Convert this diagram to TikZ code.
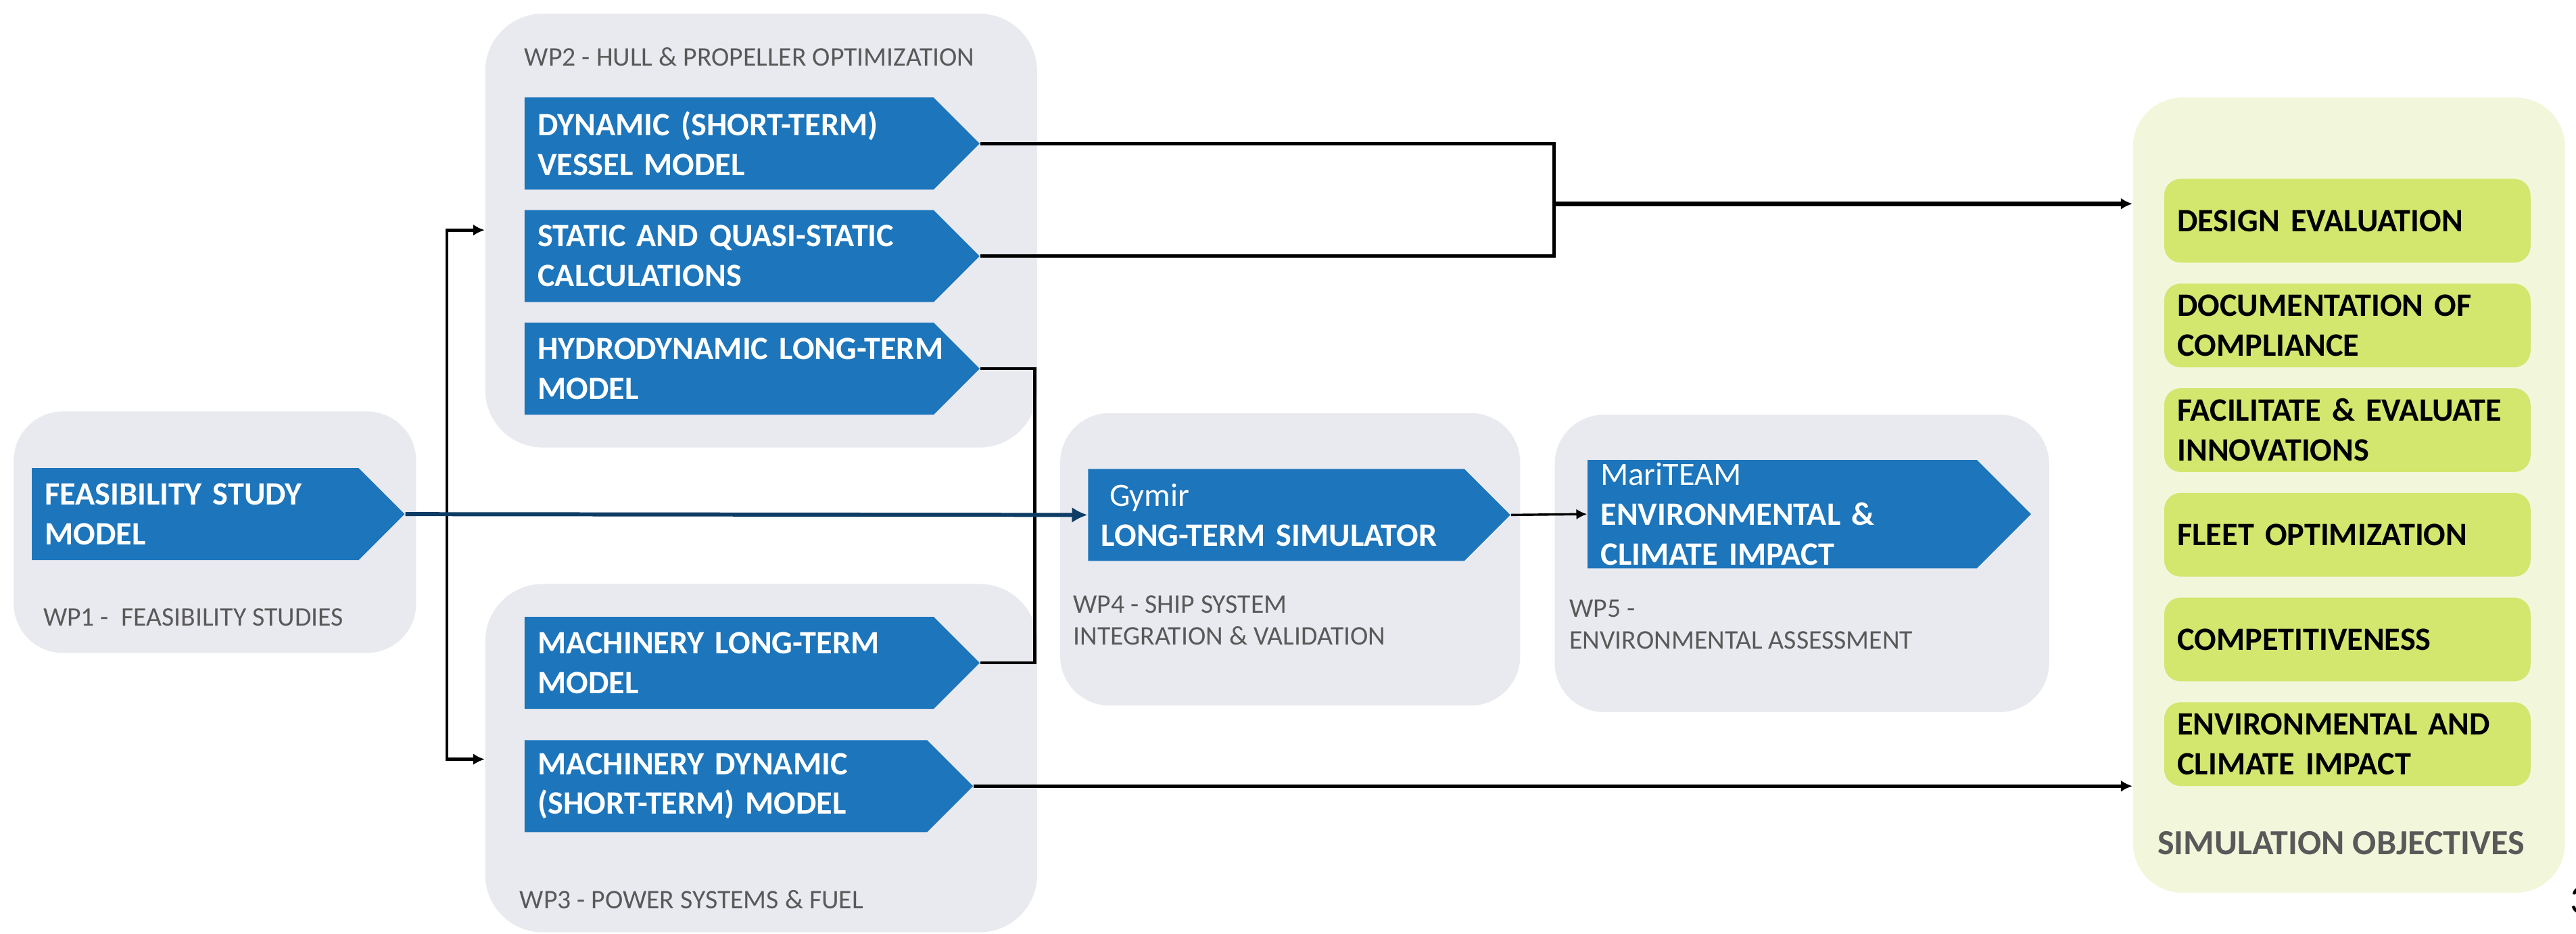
\documentclass[tikz,border=0pt]{standalone}
\usepackage{fontspec}
\setmainfont{Carlito}
\usetikzlibrary{shapes.symbols,arrows.meta,positioning}
\definecolor{modelblue}{HTML}{1D75BB}
\definecolor{wpgrey}{HTML}{E9EAF0}
\definecolor{labelgrey}{HTML}{595959}
\definecolor{objfill}{HTML}{F2F7DC}
\definecolor{goalgreen}{HTML}{D3E66E}
\definecolor{navy}{HTML}{0E3C64}
\begin{document}
\begin{tikzpicture}[x=0.02cm,y=-0.02cm,
  wpbox/.style={fill=wpgrey,rounded corners=0.6cm,anchor=north west,inner sep=0},
  wplabel/.style={text=labelgrey,font=\fontsize{9.3}{11}\selectfont,inner sep=0,align=left,anchor=base west},
  model/.style={shape=signal,signal to=east,signal from=nowhere,signal pointer angle=90,
    fill=modelblue,text=white,font=\bfseries\fontsize{11.3}{13.8}\selectfont,align=left,
    inner xsep=0.16cm,inner ysep=0,minimum height=1.12cm,anchor=north west,text width=#1},
  model/.default=4.66cm,
  goal/.style={fill=goalgreen,rounded corners=0.2cm,minimum height=1.02cm,text width=4.14cm,
    inner xsep=0.16cm,align=left,font=\bfseries\fontsize{11.3}{13.8}\selectfont,anchor=north west},
  bar/.style={line width=1.1pt},
  link/.style={line width=1.1pt,-{Latex[length=0.14cm,width=0.14cm]}},
  thinlink/.style={line width=0.8pt,-{Latex[length=0.13cm,width=0.13cm]}},
  navyarrow/.style={navy,line width=1.4pt,-{Latex[length=0.19cm,width=0.19cm]}}]
\useasboundingbox (0,0) rectangle (1568,568);

% work packages
\node[wpbox,minimum width=4.9cm,minimum height=2.94cm] (wp1) at (8,250) {};
\node[wpbox,rounded corners=0.7cm,minimum width=6.72cm,minimum height=5.28cm] (wp2) at (295,8) {};
\node[wpbox,rounded corners=0.7cm,minimum width=6.72cm,minimum height=4.24cm] (wp3) at (295,355) {};
\node[wpbox,minimum width=5.6cm,minimum height=3.56cm] (wp4) at (645,251) {};
\node[wpbox,minimum width=6.02cm,minimum height=3.62cm] (wp5) at (946,252) {};

\node[wplabel] (wp1lbl) at (26,381) {WP1 -~ FEASIBILITY STUDIES};
\node[wplabel] (wp2lbl) at (319,40) {WP2 - HULL \& PROPELLER OPTIMIZATION};
\node[wplabel] (wp3lbl) at (316,553) {WP3 - POWER SYSTEMS \& FUEL};
\node[wplabel] (wp4lbl) at (653,392.5) {WP4 - SHIP SYSTEM\\INTEGRATION \& VALIDATION};
\node[wplabel] (wp5lbl) at (955,395) {WP5 -\\ENVIRONMENTAL ASSESSMENT};

% models
\node[model=3.66cm] (feas) at (19,284.5) {FEASIBILITY STUDY\\MODEL};
\node[model] (dyn) at (319,59) {DYNAMIC (SHORT-TERM)\\VESSEL MODEL};
\node[model] (stat) at (319,127.5) {STATIC AND QUASI-STATIC\\CALCULATIONS};
\node[model] (hydro) at (319,196) {\mbox{HYDRODYNAMIC LONG-TERM}\\MODEL};
\node[model] (mlong) at (319,375) {MACHINERY LONG-TERM\\MODEL};
\node[model=4.58cm] (mdyn) at (319,450) {MACHINERY DYNAMIC\\(SHORT-TERM) MODEL};
\node[model=4.26cm] (gymir) at (662,285) {\hspace*{0.1cm}{\mdseries Gymir}\\LONG-TERM SIMULATOR};
\node[model=4.42cm,minimum height=1.32cm] (mari) at (966,279.5) {{\mdseries MariTEAM}\\ENVIRONMENTAL \&\\CLIMATE IMPACT};

% objectives
\node[fill=objfill,rounded corners=0.6cm,minimum width=5.26cm,minimum height=9.68cm,anchor=north west] (obj) at (1298,59) {};
\node[goal] (g1) at (1317,108.5) {DESIGN EVALUATION};
\node[goal,below=0.24cm of g1] (g2) {DOCUMENTATION OF\\COMPLIANCE};
\node[goal,below=0.24cm of g2] (g3) {\mbox{FACILITATE \& EVALUATE}\\INNOVATIONS};
\node[goal,below=0.24cm of g3] (g4) {FLEET OPTIMIZATION};
\node[goal,below=0.24cm of g4] (g5) {COMPETITIVENESS};
\node[goal,below=0.24cm of g5] (g6) {ENVIRONMENTAL AND\\CLIMATE IMPACT};
\node[text=labelgrey,font=\bfseries\fontsize{12.2}{14}\selectfont] (objtitle) at (1425,513) {SIMULATION OBJECTIVES};
\node[anchor=west,font=\fontsize{14}{16}\selectfont,inner sep=0] (pagenum) at (1564,548) {3};

% connectors
\coordinate (fork) at (272,313);
\coordinate (wp2in) at (295,140);
\coordinate (wp3in) at (295,462);
\coordinate (merge) at (946,124);
\draw[link] (fork) |- (wp2in);
\draw[link] (fork) |- (wp3in);
\draw[bar] (hydro.east) -- ++(33,0) |- (mlong.east);
\draw[navyarrow] (feas.east) -- (gymir.west);
\draw[thinlink] (gymir.east) -- (mari.west);
\draw[bar] (dyn.east) -| (merge) |- (stat.east);
\draw[link,line width=1.6pt] (merge) -- (merge -| obj.west);
\draw[link] (mdyn.east) -- (mdyn.east -| obj.west);
\end{tikzpicture}
\end{document}
